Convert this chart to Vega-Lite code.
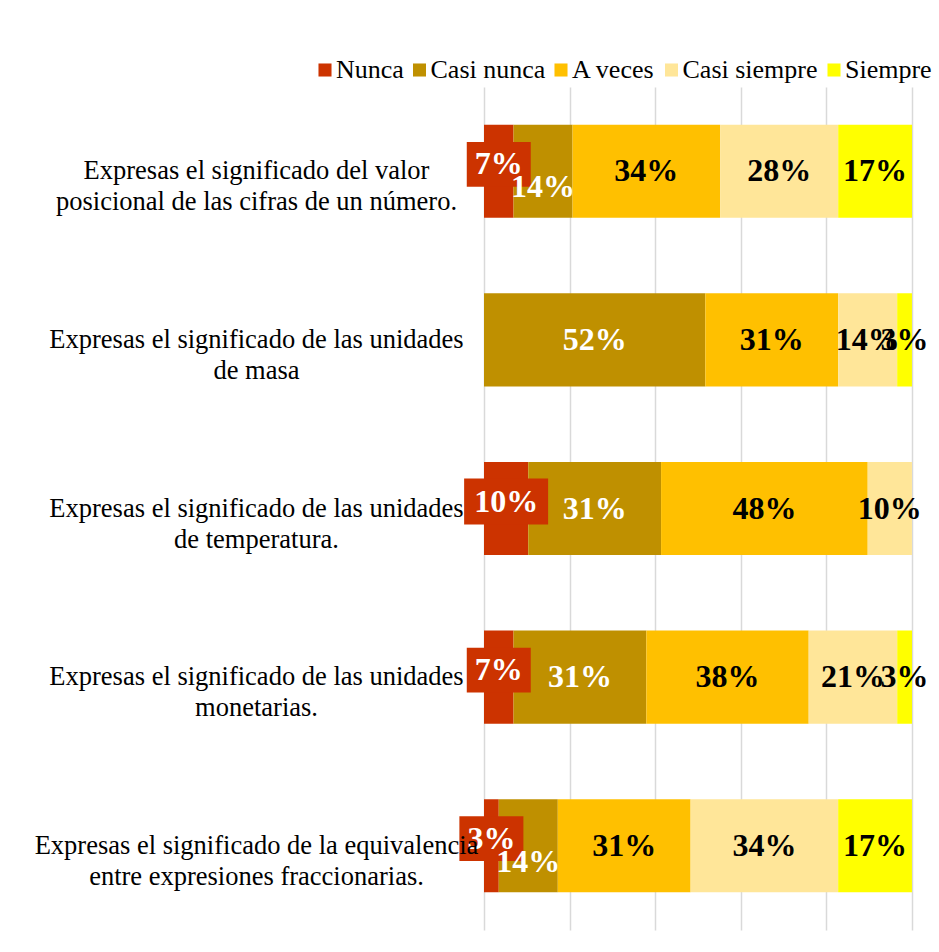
{
  "$schema": "https://vega.github.io/schema/vega-lite/v6.json",
  "width": 428,
  "height": 843,
  "autosize": {"type": "none"},
  "padding": {"left": 484, "top": 87, "right": 27, "bottom": 22},
  "background": "white",
  "config": {"view": {"stroke": null}, "font": "Liberation Serif"},
  "data": {
    "values": [
      {"item": "Expresas el significado del valor|posicional de las cifras de un número.", "response": "Nunca", "pct": 0.0690},
      {"item": "Expresas el significado del valor|posicional de las cifras de un número.", "response": "Casi nunca", "pct": 0.1379},
      {"item": "Expresas el significado del valor|posicional de las cifras de un número.", "response": "A veces", "pct": 0.3448},
      {"item": "Expresas el significado del valor|posicional de las cifras de un número.", "response": "Casi siempre", "pct": 0.2759},
      {"item": "Expresas el significado del valor|posicional de las cifras de un número.", "response": "Siempre", "pct": 0.1724},
      {"item": "Expresas el significado de las unidades|de masa", "response": "Nunca", "pct": 0},
      {"item": "Expresas el significado de las unidades|de masa", "response": "Casi nunca", "pct": 0.5172},
      {"item": "Expresas el significado de las unidades|de masa", "response": "A veces", "pct": 0.3103},
      {"item": "Expresas el significado de las unidades|de masa", "response": "Casi siempre", "pct": 0.1379},
      {"item": "Expresas el significado de las unidades|de masa", "response": "Siempre", "pct": 0.0345},
      {"item": "Expresas el significado de las unidades|de temperatura.", "response": "Nunca", "pct": 0.1034},
      {"item": "Expresas el significado de las unidades|de temperatura.", "response": "Casi nunca", "pct": 0.3103},
      {"item": "Expresas el significado de las unidades|de temperatura.", "response": "A veces", "pct": 0.4828},
      {"item": "Expresas el significado de las unidades|de temperatura.", "response": "Casi siempre", "pct": 0.1034},
      {"item": "Expresas el significado de las unidades|de temperatura.", "response": "Siempre", "pct": 0},
      {"item": "Expresas el significado de las unidades|monetarias.", "response": "Nunca", "pct": 0.0690},
      {"item": "Expresas el significado de las unidades|monetarias.", "response": "Casi nunca", "pct": 0.3103},
      {"item": "Expresas el significado de las unidades|monetarias.", "response": "A veces", "pct": 0.3793},
      {"item": "Expresas el significado de las unidades|monetarias.", "response": "Casi siempre", "pct": 0.2069},
      {"item": "Expresas el significado de las unidades|monetarias.", "response": "Siempre", "pct": 0.0345},
      {"item": "Expresas el significado de la equivalencia|entre expresiones fraccionarias.", "response": "Nunca", "pct": 0.0345},
      {"item": "Expresas el significado de la equivalencia|entre expresiones fraccionarias.", "response": "Casi nunca", "pct": 0.1379},
      {"item": "Expresas el significado de la equivalencia|entre expresiones fraccionarias.", "response": "A veces", "pct": 0.3103},
      {"item": "Expresas el significado de la equivalencia|entre expresiones fraccionarias.", "response": "Casi siempre", "pct": 0.3448},
      {"item": "Expresas el significado de la equivalencia|entre expresiones fraccionarias.", "response": "Siempre", "pct": 0.1724}
    ]
  },
  "transform": [
    {"calculate": "indexof(['Nunca','Casi nunca','A veces','Casi siempre','Siempre'], datum.response)", "as": "ord"},
    {"stack": "pct", "groupby": ["item"], "sort": [{"field": "ord", "order": "ascending"}], "as": ["x0", "x1"]},
    {"calculate": "(datum.x0 + datum.x1) / 2", "as": "mid"}
  ],
  "encoding": {
    "y": {
      "field": "item",
      "type": "nominal",
      "sort": null,
      "scale": {"paddingInner": 0.448, "paddingOuter": 0.224},
      "axis": {
        "title": null,
        "ticks": false,
        "domain": false,
        "zindex": 1,
        "labelAlign": "center",
        "labelBaseline": "middle",
        "labelPadding": 228,
        "labelFont": "Liberation Serif",
        "labelFontSize": 26.5,
        "labelColor": "black",
        "labelLineHeight": 31,
        "labelLimit": 0,
        "labelExpr": "split(datum.label, '|')"
      }
    }
  },
  "layer": [
    {
      "mark": {"type": "bar"},
      "encoding": {
        "x": {
          "field": "x0",
          "type": "quantitative",
          "scale": {"domain": [0, 1]},
          "axis": {
            "values": [0, 0.2, 0.4, 0.6, 0.8, 1],
            "grid": true,
            "gridColor": "#d9d9d9",
            "gridWidth": 1.5,
            "labels": false,
            "ticks": false,
            "domain": false,
            "title": null
          }
        },
        "x2": {"field": "x1"},
        "color": {
          "field": "response",
          "type": "nominal",
          "sort": ["Nunca", "Casi nunca", "A veces", "Casi siempre", "Siempre"],
          "scale": {
            "domain": ["Nunca", "Casi nunca", "A veces", "Casi siempre", "Siempre"],
            "range": ["#CC3300", "#BF9000", "#FFC000", "#FFE699", "#FFFF00"]
          },
          "legend": {
            "orient": "none",
            "legendX": -172,
            "legendY": -30,
            "padding": 0,
            "direction": "horizontal",
            "title": null,
            "symbolType": "square",
            "symbolSize": 170,
            "symbolStrokeWidth": 0,
            "labelFont": "Liberation Serif",
            "labelFontSize": 26,
            "labelColor": "black",
            "columnPadding": 2.5,
            "labelOffset": -2
          }
        }
      }
    },
    {
      "transform": [{"filter": "datum.response === 'Nunca' && datum.pct > 0"}],
      "mark": {"type": "point", "filled": true, "opacity": 1, "color": "#CC3300", "yOffset": -7, "strokeWidth": 0},
      "encoding": {
        "x": {"field": "mid", "type": "quantitative"},
        "shape": {
          "condition": {"test": "datum.pct >= 0.095", "value": "M-1,-0.55L1,-0.55L1,0.55L-1,0.55Z"},
          "value": "M-1,-0.7L1,-0.7L1,0.7L-1,0.7Z"
        },
        "size": {"condition": {"test": "datum.pct >= 0.095", "value": 7056}, "value": 4096}
      }
    },
    {
      "transform": [{"filter": "datum.pct > 0 && datum.response !== 'Nunca' && !(datum.response === 'Casi nunca' && datum.pct < 0.2)"}],
      "mark": {"type": "text", "font": "Liberation Serif", "fontWeight": "bold", "fontSize": 32, "baseline": "middle", "align": "center"},
      "encoding": {
        "x": {"field": "mid", "type": "quantitative"},
        "text": {"field": "pct", "type": "quantitative", "format": ".0%"},
        "color": {"condition": {"test": "datum.response === 'Casi nunca'", "value": "white"}, "value": "black"}
      }
    },
    {
      "transform": [{"filter": "datum.response === 'Casi nunca' && datum.pct > 0 && datum.pct < 0.2"}],
      "mark": {"type": "text", "font": "Liberation Serif", "fontWeight": "bold", "fontSize": 32, "baseline": "middle", "align": "center", "color": "white", "yOffset": 16},
      "encoding": {
        "x": {"field": "mid", "type": "quantitative"},
        "text": {"field": "pct", "type": "quantitative", "format": ".0%"}
      }
    },
    {
      "transform": [{"filter": "datum.response === 'Nunca' && datum.pct > 0"}],
      "mark": {"type": "text", "font": "Liberation Serif", "fontWeight": "bold", "fontSize": 32, "baseline": "middle", "align": "center", "color": "white", "yOffset": -7},
      "encoding": {
        "x": {"field": "mid", "type": "quantitative"},
        "text": {"field": "pct", "type": "quantitative", "format": ".0%"}
      }
    }
  ]
}
